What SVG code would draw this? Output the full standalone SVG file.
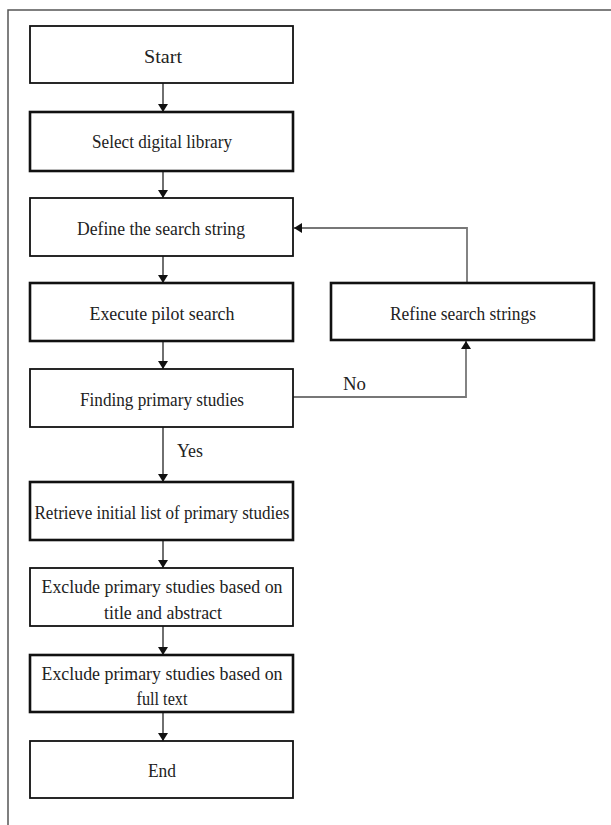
<svg xmlns="http://www.w3.org/2000/svg" width="611" height="825" viewBox="0 0 611 825">
<style>
.box{fill:#fff;stroke:#111;stroke-width:1.8}
.thick{stroke-width:2.6}
.t{font-family:"Liberation Serif","Times New Roman",Times,serif;font-size:19px;fill:#222;text-anchor:middle}
.lbl{font-family:"Liberation Serif","Times New Roman",Times,serif;font-size:19px;fill:#222}
.c{fill:none;stroke:#222;stroke-width:1.3}
.g{fill:none;stroke:#777;stroke-width:1.8}
</style>
<defs>
<marker id="ah" viewBox="0 0 8 10" refX="8" refY="5" markerWidth="8" markerHeight="10" markerUnits="userSpaceOnUse" orient="auto">
<path d="M0,0 L8,5 L0,10 z" fill="#111"/>
</marker>
</defs>
<rect width="611" height="825" fill="#fff"/>
<path d="M8,825 V10 H611" fill="none" stroke="#555" stroke-width="1.5"/>
<g id="connectors">
<path class="c" d="M163,83 V112" marker-end="url(#ah)"/>
<path class="c" d="M163,171 V198" marker-end="url(#ah)"/>
<path class="c" d="M163,256 V283" marker-end="url(#ah)"/>
<path class="c" d="M163,341 V369" marker-end="url(#ah)"/>
<path class="c" d="M163,427 V482" marker-end="url(#ah)"/>
<path class="c" d="M163,540 V568" marker-end="url(#ah)"/>
<path class="c" d="M163,626 V655" marker-end="url(#ah)"/>
<path class="c" d="M163,712 V741" marker-end="url(#ah)"/>
<path class="g" d="M467,283 V228 H294" marker-end="url(#ah)"/>
<path class="g" d="M293,397 H466 V341" marker-end="url(#ah)"/>
<text class="lbl" x="343" y="390" textLength="23" lengthAdjust="spacingAndGlyphs">No</text>
<text class="lbl" x="177" y="457" textLength="26" lengthAdjust="spacingAndGlyphs">Yes</text>
</g>
<g id="start">
<rect class="box" x="30" y="26" width="263" height="57"/>
<text class="t" x="163" y="63" textLength="38" lengthAdjust="spacingAndGlyphs">Start</text>
</g>
<g id="select">
<rect class="box thick" x="30" y="112" width="263" height="59"/>
<text class="t" x="162" y="148" textLength="140" lengthAdjust="spacingAndGlyphs">Select digital library</text>
</g>
<g id="define">
<rect class="box" x="30" y="198" width="263" height="58"/>
<text class="t" x="161" y="235" textLength="168" lengthAdjust="spacingAndGlyphs">Define the search string</text>
</g>
<g id="execute">
<rect class="box thick" x="30" y="283" width="263" height="58"/>
<text class="t" x="162" y="320" textLength="145" lengthAdjust="spacingAndGlyphs">Execute pilot search</text>
</g>
<g id="finding">
<rect class="box" x="30" y="369" width="263" height="58"/>
<text class="t" x="162" y="406" textLength="164" lengthAdjust="spacingAndGlyphs">Finding primary studies</text>
</g>
<g id="refine">
<rect class="box thick" x="331" y="283" width="263" height="57"/>
<text class="t" x="463" y="320" textLength="146" lengthAdjust="spacingAndGlyphs">Refine search strings</text>
</g>
<g id="retrieve">
<rect class="box thick" x="30" y="482" width="263" height="58"/>
<text class="t" x="162" y="519" textLength="255" lengthAdjust="spacingAndGlyphs">Retrieve initial list of primary studies</text>
</g>
<g id="exclude1">
<rect class="box" x="30" y="568" width="263" height="58"/>
<text class="t" x="162" y="593" textLength="241" lengthAdjust="spacingAndGlyphs">Exclude primary studies based on</text>
<text class="t" x="163" y="619" textLength="118" lengthAdjust="spacingAndGlyphs">title and abstract</text>
</g>
<g id="exclude2">
<rect class="box thick" x="30" y="655" width="263" height="57"/>
<text class="t" x="162" y="680" textLength="241" lengthAdjust="spacingAndGlyphs">Exclude primary studies based on</text>
<text class="t" x="162" y="705" textLength="51" lengthAdjust="spacingAndGlyphs">full text</text>
</g>
<g id="end">
<rect class="box" x="30" y="741" width="263" height="57"/>
<text class="t" x="162" y="777" textLength="28" lengthAdjust="spacingAndGlyphs">End</text>
</g>
</svg>
